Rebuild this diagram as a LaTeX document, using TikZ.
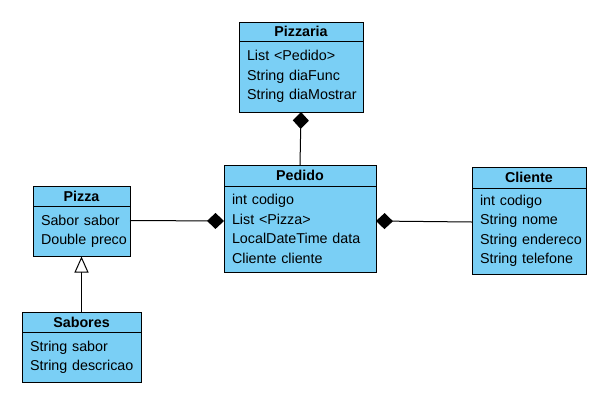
\documentclass[tikz,border=0pt]{standalone}
\usepackage{fontspec}
\setmainfont{Liberation Sans}
\usetikzlibrary{positioning,arrows.meta}
\definecolor{classblue}{RGB}{122,207,245}
\begin{document}
\begin{tikzpicture}[x=1pt,y=-1pt,
    head/.style={draw, fill=classblue, line width=1pt, inner sep=0pt, outer sep=0pt, font=\bfseries\fontsize{14.3}{16}\selectfont},
    body/.style={draw, fill=classblue, line width=1pt, inner xsep=8pt, inner ysep=0pt, outer sep=0pt, align=left, font=\fontsize{14.3}{19.5}\selectfont,
      execute at begin node={\hyphenpenalty=10000\exhyphenpenalty=10000\hfuzz=40pt}},
    comp/.style={line width=1pt, -{Diamond[length=17pt,width=16pt]}},
    inherit/.style={line width=1pt, -{Triangle[open,length=16pt,width=14pt,fill=white]}}]
  \useasboundingbox (0,0) rectangle (615,402);

  % classes
  \node[head, minimum width=124pt, minimum height=19pt] (pizzaria) at (301,31.5) {Pizzaria};
  \node[body, below=0pt of pizzaria, text width=108pt, minimum height=71pt] (pizzariab) {List~<Pedido>\\String~diaFunc\\String~diaMostrar};

  \node[head, minimum width=152pt, minimum height=21pt] (pedido) at (300,175.5) {Pedido};
  \node[body, below=0pt of pedido, text width=136pt, minimum height=86pt] (pedidob) {int~codigo\\List~<Pizza>\\LocalDateTime~data\\Cliente~cliente};

  \node[head, minimum width=97pt, minimum height=20pt] (pizza) at (81.5,196.5) {Pizza};
  \node[body, below=0pt of pizza, text width=81pt, minimum height=50pt] (pizzab) {Sabor~sabor\\Double~preco};

  \node[head, minimum width=119pt, minimum height=20pt] (sabores) at (81.5,322.5) {Sabores};
  \node[body, below=0pt of sabores, text width=103pt, minimum height=50pt] (saboresb) {String~sabor\\String~descricao};

  \node[head, minimum width=114pt, minimum height=21pt] (cliente) at (529,177.5) {Cliente};
  \node[body, below=0pt of cliente, text width=98pt, minimum height=86pt] (clienteb) {int~codigo\\String~nome\\String~endereco\\String~telefone};

  % relations
  \draw[comp] (pedido.north) -- (pizzariab.south);
  \draw[comp] ([yshift=-14pt]pizzab.north east) -- ([yshift=-35pt]pedidob.north west);
  \draw[comp] ([yshift=-34pt]clienteb.north west) -- ([yshift=-35pt]pedidob.north east);
  \draw[inherit] (sabores.north) -- (pizzab.south);
\end{tikzpicture}
\end{document}
